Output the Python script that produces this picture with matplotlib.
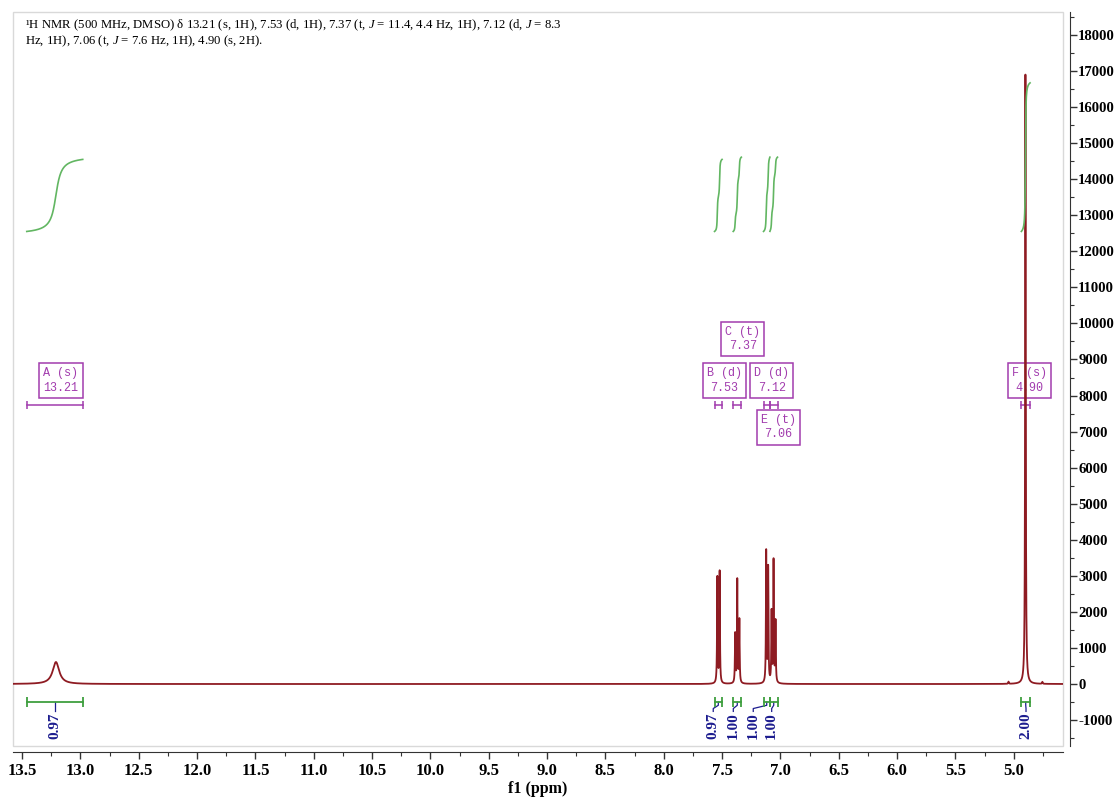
import matplotlib
matplotlib.use("Agg")
import matplotlib.pyplot as plt
from matplotlib.ticker import MultipleLocator
from matplotlib.patches import Rectangle
import numpy as np

plt.rcParams["mathtext.fontset"] = "custom"
plt.rcParams["mathtext.rm"] = "Liberation Serif"
plt.rcParams["mathtext.it"] = "Liberation Serif:italic"

# individual lines of the spectrum: position (ppm), height, half width (ppm)
line_ppm = [13.21, 7.541, 7.521, 7.388, 7.370, 7.352, 7.122, 7.105,
            7.076, 7.059, 7.042, 4.900, 5.045, 4.755]
line_height = [610, 2950, 3110, 1360, 2860, 1750, 3640, 3190,
               1940, 3390, 1690, 16900, 60, 55]
line_hwhm = [0.034, 0.0028, 0.0028, 0.0028, 0.0028, 0.0028, 0.0028, 0.0028,
             0.0028, 0.0028, 0.0028, 0.003, 0.003, 0.003]

# integrals: range (from, to) and value
int_from = [13.46, 7.565, 7.405, 7.145, 7.090, 4.935]
int_to = [12.98, 7.500, 7.335, 7.090, 7.025, 4.860]
int_value = [0.97, 0.97, 1.00, 1.00, 1.00, 2.00]
int_label_ppm = [13.22, 7.576, 7.404, 7.233, 7.075, 4.895]

# multiplet annotations
mult_name = ["A", "B", "C", "D", "E", "F"]
mult_type = ["s", "d", "t", "d", "t", "s"]
mult_shift = ["13.21", "7.53", "7.37", "7.12", "7.06", "4.90"]
mult_box_ppm = [13.167, 7.481, 7.323, 7.074, 7.018, 4.863]
mult_box_y = [8420, 8420, 9570, 8420, 7120, 8420]

title = ("¹H NMR (500 MHz, DMSO) δ 13.21 (s, 1H), 7.53 (d, 1H), 7.37 (t, $\\it{J}$ = 11.4, 4.4 Hz, 1H), "
         "7.12 (d, $\\it{J}$ = 8.3\nHz, 1H), 7.06 (t, $\\it{J}$ = 7.6 Hz, 1H), 4.90 (s, 2H).")

spec_color = "#8e1b22"
int_color = "#62b662"
bar_color = "#3f9f3f"
lab_color = "#1d1d8f"
mult_color = "#a23cae"

ppm = np.arange(13.58, 4.55, -0.0004)
spec = np.zeros_like(ppm)
for p, h, w in zip(line_ppm, line_height, line_hwhm):
    spec += h / (1 + ((ppm - p) / w) ** 2)

fig = plt.figure(figsize=(11.16, 7.97), dpi=100)
ax = fig.add_axes([13 / 1116, 51 / 797, 1050 / 1116, 734 / 797])
ax.set_xlim(13.578, 4.578)
ax.set_ylim(-1719, 18636)

ax.add_patch(Rectangle((0, 0), 1, 1, transform=ax.transAxes, fill=False,
                       ec="#d9d9d9", lw=1, zorder=0, clip_on=False))
ax.plot(ppm, spec, color=spec_color, lw=1.3, zorder=3)

# integral curves and bars
base = 12550
scale = 2060
for a, b, v, lp in zip(int_from, int_to, int_value, int_label_ppm):
    m = (ppm <= a) & (ppm >= b)
    cum = np.cumsum(spec[m])
    cum = cum / cum[-1] * v * scale + base
    ax.plot(ppm[m], cum, color=int_color, lw=1.2, zorder=4)
    ax.plot([a, b], [-500, -500], color=bar_color, lw=1.3, zorder=3)
    ax.plot([a, b], [-500, -500], ls="none", marker="|", ms=7, mew=1.3,
            color=bar_color, zorder=3)
    c = (a + b) / 2
    ax.plot([c, c, lp, lp], [-500, -590, -680, -760], color=lab_color, lw=0.9)
    ax.text(lp, -790, f"{v:.2f}", rotation=90, ha="center", va="top",
            color=lab_color, fontsize=11, fontweight="bold",
            family="Liberation Serif")

# multiplet labels
for n, t, s, bx, by, a, b in zip(mult_name, mult_type, mult_shift,
                                 mult_box_ppm, mult_box_y, int_from, int_to):
    ax.text(bx, by, f"{n} ({t})\n{s}", ha="center", va="center",
            color=mult_color, fontsize=8.5, family="Liberation Mono",
            linespacing=1.25, zorder=2,
            bbox=dict(boxstyle="square,pad=0.35", fc="white", ec=mult_color, lw=1.1))
    ax.plot([a, b], [7750, 7750], color=mult_color, lw=1.1, zorder=2)
    ax.plot([a, b], [7750, 7750], ls="none", marker="|", ms=6, mew=1.1,
            color=mult_color, zorder=2)

fig.text(25 / 1116, 1 - 18 / 797, title, ha="left", va="top", fontsize=9.2,
         family="Liberation Serif", linespacing=1.0)

for side in ["top", "left"]:
    ax.spines[side].set_visible(False)
ax.spines["bottom"].set_position(("outward", 4))
ax.spines["right"].set_position(("outward", 5))
ax.spines["bottom"].set_color("#333333")
ax.spines["right"].set_color("#333333")

ax.yaxis.tick_right()
ax.xaxis.set_major_locator(MultipleLocator(0.5))
ax.xaxis.set_minor_locator(MultipleLocator(0.25))
ax.yaxis.set_major_locator(MultipleLocator(1000))
ax.yaxis.set_minor_locator(MultipleLocator(500))
ax.xaxis.set_major_formatter(lambda v, pos: f"{v:.1f}")
ax.yaxis.set_major_formatter(lambda v, pos: f"{v:.0f}")
ax.tick_params(axis="both", which="major", length=5, width=1, color="#333333")
ax.tick_params(axis="both", which="minor", length=3, width=0.8, color="#333333")
ax.tick_params(axis="x", labelsize=12, pad=3)
ax.tick_params(axis="y", labelsize=10.6, pad=1)
for lab in ax.get_xticklabels() + ax.get_yticklabels():
    lab.set_family("Liberation Serif")
    lab.set_fontweight("bold")

ax.set_xlabel("f1 (ppm)", fontsize=11.5, fontweight="bold",
              family="Liberation Serif", labelpad=2)

fig.savefig("out.png", dpi=100)
